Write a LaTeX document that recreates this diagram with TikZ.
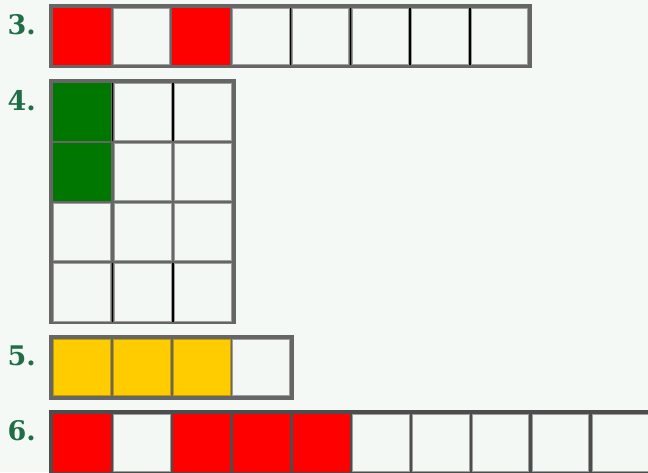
\documentclass[tikz,border=0pt]{standalone}
\usepackage{fontspec}
\newfontfamily\labfont{DejaVu Serif}
\definecolor{bg}{HTML}{F4F9F5}
\definecolor{cellbg}{HTML}{F4F8F5}
\definecolor{frame}{HTML}{666666}
\definecolor{frameB}{HTML}{4D4D4D}
\definecolor{cellline}{HTML}{9E9E9E}
\definecolor{lab}{RGB}{32,110,70}
\definecolor{myred}{HTML}{FF0000}
\definecolor{mygreen}{HTML}{007700}
\definecolor{myyellow}{HTML}{FFCC00}
\tikzset{
  labstyle/.style={inner sep=0pt, anchor=base west, text=lab, font=\labfont\bfseries\fontsize{27}{27}\selectfont},
  wcell/.style={fill=cellbg, draw=cellline, line width=1pt},
  ccell/.style={draw=none},
  blk/.style={draw=black, line width=1.4pt},
}
\begin{document}
\begin{tikzpicture}[x=1pt,y=-1pt]
\useasboundingbox (0,0) rectangle (648,472);
\fill[bg] (0,0) rectangle (648,472);
\clip (0,0) rectangle (648,472);

% ---- row 3 ----
\node[labstyle] (l3) at (7.5,34) {3.};
\fill[frame] (49,4) rectangle (532,68);
\foreach \i/\c in {0/myred,1/cellbg,2/myred,3/cellbg,4/cellbg,5/cellbg,6/cellbg,7/cellbg}{
  \pgfmathsetmacro{\xa}{53+\i*59.7}
  \ifx\c\empty\else\fi
  \edef\tmp{\c}
  \def\wc{cellbg}
  \ifx\tmp\wc
    \filldraw[wcell] (\xa+0.5,8.5) rectangle (\xa+57,64.5);
  \else
    \fill[\c] (\xa,8) rectangle (\xa+57.5,65);
  \fi
}
\foreach \i in {4,5,6,7}{
  \draw[blk] ({53+\i*59.7-1.1},8) -- ({53+\i*59.7-1.1},65);
}

% ---- row 4 ----
\node[labstyle] (l4) at (7.5,110) {4.};
\fill[frame] (49,79) rectangle (236,324);
\foreach \r in {0,1,2,3}{
  \foreach \k in {0,1,2}{
    \pgfmathsetmacro{\xa}{53.3+\k*60.3}
    \pgfmathsetmacro{\ya}{82.5+\r*60.3}
    \pgfmathtruncatemacro{\isg}{(\k==0 && \r<2) ? 1 : 0}
    \ifnum\isg=1
      \fill[mygreen] (\xa,\ya) rectangle (\xa+58,\ya+58.3);
    \else
      \filldraw[wcell] (\xa+0.5,\ya+0.5) rectangle (\xa+57.5,\ya+57.8);
    \fi
  }
}
\foreach \r in {0,3}{
  \foreach \k in {1,2}{
    \draw[blk] ({53.3+\k*60.3-1.1},{82.5+\r*60.3}) -- ({53.3+\k*60.3-1.1},{82.5+\r*60.3+58.3});
  }
}

% ---- row 5 ----
\node[labstyle] (l5) at (7.5,365) {5.};
\fill[frame] (49,335) rectangle (293.5,399.5);
\foreach \i in {0,1,2}{
  \pgfmathsetmacro{\xa}{53.3+\i*59.7}
  \filldraw[fill=myyellow, draw=myyellow!75!black, line width=0.6pt] (\xa+0.3,339.3) rectangle (\xa+57.4,395.7);
}
\filldraw[wcell] ({53.3+3*59.7+0.5},339.5) rectangle ({53.3+3*59.7+57.2},395.5);

% ---- row 6 ----
\node[labstyle] (l6) at (7.5,440) {6.};
\fill[frameB] (49,410) rectangle (660,480);
\foreach \i/\c in {0/myred,1/cellbg,2/myred,3/myred,4/myred,5/cellbg,6/cellbg,7/cellbg,8/cellbg,9/cellbg}{
  \pgfmathsetmacro{\xa}{53.3+\i*59.8}
  \edef\tmp{\c}
  \def\wc{cellbg}
  \ifx\tmp\wc
    \filldraw[wcell] (\xa+0.5,414.5) rectangle (\xa+57,471);
  \else
    \fill[\c] (\xa,414) rectangle (\xa+57.5,471.5);
  \fi
}
\end{tikzpicture}
\end{document}
